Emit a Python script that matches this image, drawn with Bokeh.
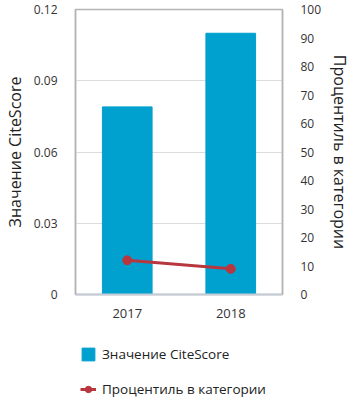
from bokeh.plotting import figure
from bokeh.layouts import column
from bokeh.models import Range1d, LinearAxis, FixedTicker, Legend, LegendItem, ColumnDataSource
from bokeh.embed import file_html
from bokeh.resources import INLINE

years = ["2017", "2018"]
citescore = [0.079, 0.11]
percentile = [12, 9]
left_ticks = [0, 0.03, 0.06, 0.09, 0.12]
right_ticks = [0, 10, 20, 30, 40, 50, 60, 70, 80, 90, 100]

FONT = "Open Sans"
BAR = "#00a0cf"
LINE = "#b8373e"

src = ColumnDataSource(dict(x=years, cs=citescore, pct=percentile))

p = figure(width=354, height=325, x_range=years, y_range=Range1d(0, 0.12),
           output_backend="svg", toolbar_location=None,
           min_border_left=72, min_border_right=72, min_border_top=9, min_border_bottom=31)
p.extra_y_ranges = {"pct": Range1d(0, 100)}

p.vbar(x="x", top="cs", width=0.48, source=src, color=BAR)
p.line(x="x", y="pct", source=src, y_range_name="pct", line_color=LINE, line_width=3)
p.scatter(x="x", y="pct", source=src, y_range_name="pct", size=9, color=LINE)

p.outline_line_color = "#b4b4b4"
p.outline_line_width = 1.5
p.xgrid.grid_line_color = None
p.ygrid.grid_line_color = "#dcdcdc"
p.ygrid.ticker = FixedTicker(ticks=[0.03, 0.06, 0.09])

ya = p.yaxis[0]
ya.ticker = FixedTicker(ticks=left_ticks)
ya.major_label_overrides = {0: "0"}
ya.axis_label = "Значение CiteScore"
ya.axis_line_color = "#b4b4b4"
ya.axis_line_width = 1.5
ya.major_tick_line_color = None
ya.minor_tick_line_color = None

ra = LinearAxis(y_range_name="pct", ticker=FixedTicker(ticks=right_ticks))
ra.axis_label = "Процентиль в категории"
ra.axis_line_color = "#b4b4b4"
ra.axis_line_width = 1.5
ra.major_tick_line_color = None
ra.minor_tick_line_color = None
p.add_layout(ra, "right")

xa = p.xaxis[0]
xa.axis_line_color = "#c4ccd6"
xa.axis_line_width = 2
xa.major_tick_line_color = None
xa.minor_tick_line_color = None

for ax in (ya, ra, xa):
    ax.major_label_text_font = FONT
    ax.major_label_text_font_size = "12px"
    ax.major_label_text_color = "#333333"
    ax.axis_label_text_font = FONT
    ax.axis_label_text_font_size = "16px"
    ax.axis_label_text_font_style = "normal"
    ax.axis_label_text_color = "#222222"
    ax.major_label_standoff = 12

xa.major_label_text_font_size = "13px"
xa.major_label_standoff = 8

# legend figure below the chart (its frame is aligned with the chart's frame)
lf = figure(width=354, height=77, x_range=years, y_range=Range1d(0, 1),
            output_backend="svg", toolbar_location=None,
            min_border_left=72, min_border_right=72, min_border_top=0, min_border_bottom=0)
lf.axis.visible = False
lf.grid.visible = False
lf.outline_line_color = None
lb = lf.vbar(x="x", top="cs", width=0.48, source=src, color=BAR, visible=False)
ll = lf.line(x="x", y="pct", source=src, line_color=LINE, line_width=3, visible=False)
ls = lf.scatter(x="x", y="pct", source=src, size=9, color=LINE, visible=False)

legend = Legend(items=[
    LegendItem(label="Значение CiteScore", renderers=[lb]),
    LegendItem(label="Процентиль в категории", renderers=[ll, ls]),
], orientation="vertical", location=(5, 4))
legend.label_text_font = FONT
legend.label_text_font_size = "13.5px"
legend.label_text_color = "#222222"
legend.border_line_color = None
legend.background_fill_alpha = 0
legend.inactive_fill_alpha = 0
legend.spacing = 17
legend.margin = 0
legend.padding = 0
legend.glyph_width = 16
legend.glyph_height = 16
legend.label_standoff = 6
lf.add_layout(legend, "center")

layout = column(p, lf, spacing=0)
open("out.html", "w").write(file_html(layout, INLINE))
